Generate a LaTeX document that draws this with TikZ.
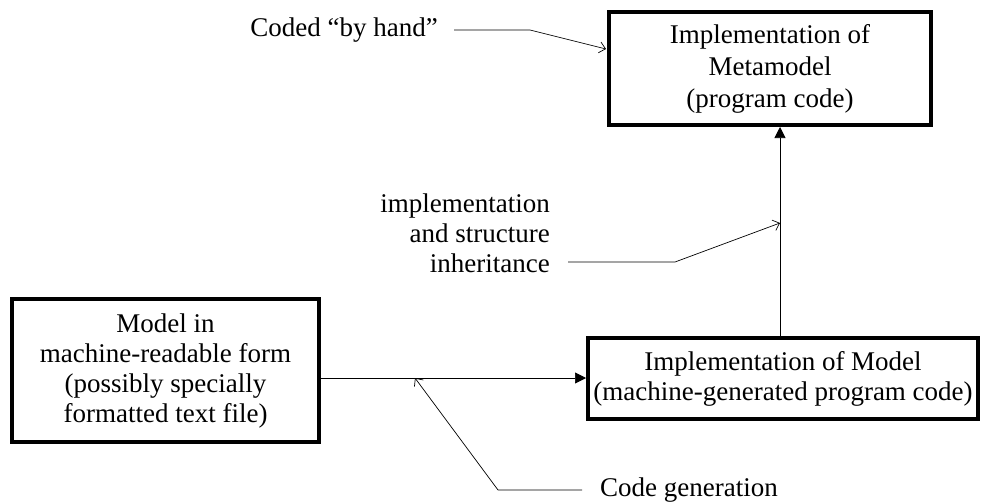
\documentclass[tikz,border=0pt]{standalone}
\usepackage{fontspec}
\setmainfont{Liberation Serif}
\usetikzlibrary{arrows.meta,calc}
\begin{document}
\begin{tikzpicture}[x=1pt,y=-1pt,
  box/.style={draw,line width=4pt,inner sep=0pt,align=center,
    font=\fontsize{27}{30}\selectfont},
  lbl/.style={inner sep=0pt,font=\fontsize{27}{30}\selectfont},
  conn/.style={line width=0.7pt},
  solidtip/.style={-{Triangle[length=11pt,width=11pt]}},
  opentip/.style={-{Straight Barb[length=6pt,width=11pt,line width=0.7pt]}}]
\useasboundingbox (0,0) rectangle (982,501);

\node[box,minimum width=322pt,minimum height=113pt,
  font=\fontsize{27}{32}\selectfont] (meta) at (770,68.5)
  {Implementation of\\Metamodel\\(program code)};
\node[box,minimum width=307pt,minimum height=143pt] (model) at (165.5,370.5)
  {Model in\\machine-readable form\\(possibly specially\\formatted text file)};
\node[box,minimum width=390pt,minimum height=81pt] (impl) at (783,378.5)
  {Implementation of Model\\(machine-generated program code)};

\node[lbl,anchor=east] (hand) at (438,30) {Coded “by hand”};
\node[lbl,anchor=east,align=right] (inh) at (550,233)
  {implementation\\and structure\\inheritance};
\node[lbl,anchor=west] (gen) at (600,490) {Code generation};

% main connectors
\draw[conn,solidtip] (impl.north -| 780,0) coordinate (up) -- (up |- meta.south);
\draw[conn,solidtip] (model.east |- 0,378) coordinate (mr) -- (mr -| impl.west);

% label connectors
\coordinate (handbend) at (530,30);
\coordinate (handtip) at (606,49);
\draw[conn,opentip] ($(hand.east)+(16,0)$) -- (handbend) -- (handtip);

\coordinate (inhstart) at (568,262);
\coordinate (inhbend) at (675,262);
\coordinate (inhtip) at (780,223);
\draw[conn,opentip] (inhstart) -- (inhbend) -- (inhtip);

\coordinate (genbend) at (498,490);
\coordinate (gentip) at (415,378);
\draw[conn,opentip] ($(gen.west)+(-18,0)$) -- (genbend) -- (gentip);
\end{tikzpicture}
\end{document}
